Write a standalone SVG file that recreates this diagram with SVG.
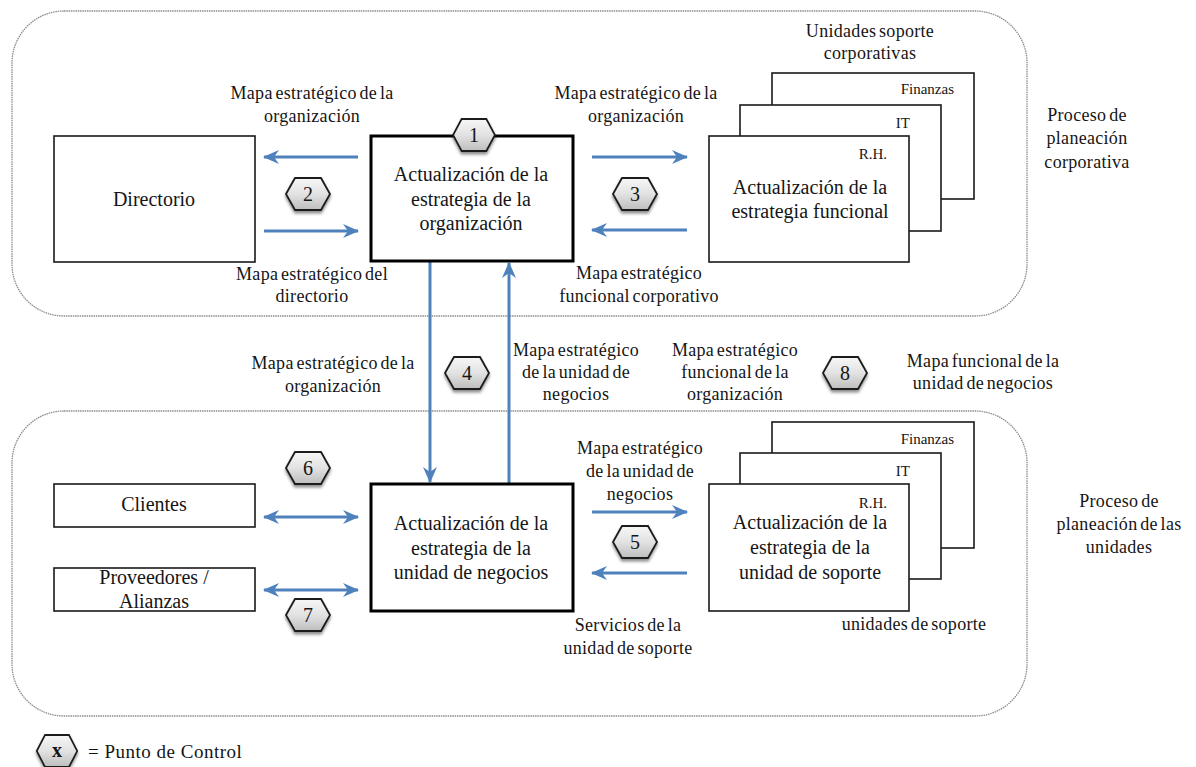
<svg xmlns="http://www.w3.org/2000/svg" width="1196" height="767" viewBox="0 0 1196 767" font-family="'Liberation Serif', 'DejaVu Serif', serif">
  <style>
    text { fill: #151515; }
    .main { font-size: 20px; text-anchor: middle; }
    .lbl { font-size: 18px; text-anchor: middle; letter-spacing: 0.3px; word-spacing: -2px; }
    .tag { font-size: 15px; text-anchor: end; }
    .num { font-size: 20px; text-anchor: middle; }
    .frame { fill: none; stroke: #8c8c8c; stroke-width: 1.3; stroke-dasharray: 1.5 0.8; }
    .box { fill: #fff; stroke: #1a1a1a; stroke-width: 1.6; }
    .core { fill: #fff; stroke: #000; stroke-width: 3; }
    .flow { fill: none; stroke: #4f81bd; stroke-width: 3; }
    .one { marker-end: url(#head); }
    .two { marker-start: url(#head); marker-end: url(#head); }
    .hex { fill: url(#hexfill); stroke: #1e1e1e; stroke-width: 1.8; filter: url(#shadow); }
  </style>
  <defs>
    <linearGradient id="hexfill" x1="0" y1="0" x2="0" y2="1">
      <stop offset="0" stop-color="#f7f7f7"/>
      <stop offset="0.5" stop-color="#e2e2e2"/>
      <stop offset="1" stop-color="#bdbdbd"/>
    </linearGradient>
    <filter id="shadow" x="-30%" y="-30%" width="160%" height="170%">
      <feDropShadow dx="0" dy="2.5" stdDeviation="1.6" flood-color="#000" flood-opacity="0.45"/>
    </filter>
    <marker id="head" viewBox="0 0 16 14" refX="15" refY="7" markerWidth="16" markerHeight="14" markerUnits="userSpaceOnUse" orient="auto-start-reverse">
      <path d="M0,0 L16,7 L0,14 L5,7 Z" fill="#4f81bd"/>
    </marker>
    <path id="hexshape" d="M-22,0 L-13,-16 L13,-16 L22,0 L13,16 L-13,16 Z"/>
  </defs>

  <!-- process frames -->
  <g id="frame-corporativo">
    <rect class="frame" x="12" y="11" width="1015" height="305" rx="52" ry="52"/>
    <text class="lbl" x="1087" y="121">Proceso de</text>
    <text class="lbl" x="1087" y="144">planeación</text>
    <text class="lbl" x="1087" y="168">corporativa</text>
  </g>
  <g id="frame-unidades">
    <rect class="frame" x="12" y="411" width="1015" height="305" rx="52" ry="52"/>
    <text class="lbl" x="1119" y="507">Proceso de</text>
    <text class="lbl" x="1119" y="530">planeación de las</text>
    <text class="lbl" x="1119" y="553">unidades</text>
  </g>

  <!-- connectors -->
  <g id="connectors">
    <line class="flow one" x1="358" y1="157" x2="264" y2="157"/>
    <line class="flow one" x1="264" y1="231" x2="358" y2="231"/>
    <line class="flow one" x1="592" y1="157" x2="687" y2="157"/>
    <line class="flow one" x1="687" y1="230" x2="592" y2="230"/>
    <line class="flow one" x1="430" y1="262" x2="430" y2="482"/>
    <line class="flow one" x1="509" y1="483" x2="509" y2="263"/>
    <line class="flow two" x1="264" y1="517" x2="358" y2="517"/>
    <line class="flow two" x1="264" y1="590" x2="358" y2="590"/>
    <line class="flow one" x1="592" y1="512" x2="687" y2="512"/>
    <line class="flow one" x1="687" y1="573" x2="592" y2="573"/>
  </g>

  <!-- corporate level -->
  <g id="directorio">
    <rect class="box" x="54" y="136" width="201" height="126"/>
    <text class="main" x="154" y="206">Directorio</text>
  </g>
  <g id="estrategia-organizacion">
    <rect class="core" x="371" y="136" width="202" height="125"/>
    <text class="main" x="471" y="181">Actualización de la</text>
    <text class="main" x="471" y="206">estrategia de la</text>
    <text class="main" x="471" y="230">organización</text>
  </g>
  <g id="unidades-corporativas">
    <text class="lbl" x="870" y="37">Unidades soporte</text>
    <text class="lbl" x="870" y="59">corporativas</text>
    <rect class="box" x="772" y="73" width="202" height="126"/>
    <text class="tag" x="954" y="94">Finanzas</text>
    <rect class="box" x="740" y="105" width="201" height="126"/>
    <text class="tag" x="910" y="128">IT</text>
    <rect class="box" x="709" y="136" width="200" height="126"/>
    <text class="tag" x="887" y="159">R.H.</text>
    <text class="main" x="810" y="194">Actualización de la</text>
    <text class="main" x="810" y="218">estrategia funcional</text>
  </g>

  <!-- business unit level -->
  <g id="clientes">
    <rect class="box" x="54" y="484" width="201" height="43"/>
    <text class="main" x="154" y="511">Clientes</text>
  </g>
  <g id="proveedores">
    <rect class="box" x="54" y="568" width="201" height="43"/>
    <text class="main" x="154" y="584">Proveedores /</text>
    <text class="main" x="154" y="608">Alianzas</text>
  </g>
  <g id="estrategia-unidad-negocios">
    <rect class="core" x="371" y="484" width="202" height="127"/>
    <text class="main" x="471" y="530">Actualización de la</text>
    <text class="main" x="471" y="555">estrategia de la</text>
    <text class="main" x="471" y="579">unidad de negocios</text>
  </g>
  <g id="unidades-soporte">
    <rect class="box" x="772" y="422" width="202" height="126"/>
    <text class="tag" x="954" y="444">Finanzas</text>
    <rect class="box" x="740" y="453" width="201" height="126"/>
    <text class="tag" x="910" y="476">IT</text>
    <rect class="box" x="709" y="484" width="200" height="127"/>
    <text class="tag" x="887" y="508">R.H.</text>
    <text class="main" x="810" y="529">Actualización de la</text>
    <text class="main" x="810" y="554">estrategia de la</text>
    <text class="main" x="810" y="579">unidad de soporte</text>
    <text class="lbl" x="914" y="630">unidades de soporte</text>
  </g>

  <!-- flow labels -->
  <g id="labels">
    <text class="lbl" x="312" y="99">Mapa estratégico de la</text>
    <text class="lbl" x="312" y="122">organización</text>
    <text class="lbl" x="312" y="280">Mapa estratégico del</text>
    <text class="lbl" x="312" y="302">directorio</text>
    <text class="lbl" x="636" y="99">Mapa estratégico de la</text>
    <text class="lbl" x="636" y="122">organización</text>
    <text class="lbl" x="639" y="279">Mapa estratégico</text>
    <text class="lbl" x="639" y="302">funcional corporativo</text>
    <text class="lbl" x="333" y="369">Mapa estratégico de la</text>
    <text class="lbl" x="333" y="392">organización</text>
    <text class="lbl" x="576" y="356">Mapa estratégico</text>
    <text class="lbl" x="576" y="378">de la unidad de</text>
    <text class="lbl" x="576" y="400">negocios</text>
    <text class="lbl" x="735" y="356">Mapa estratégico</text>
    <text class="lbl" x="735" y="378">funcional de la</text>
    <text class="lbl" x="735" y="400">organización</text>
    <text class="lbl" x="983" y="367">Mapa funcional de la</text>
    <text class="lbl" x="983" y="389">unidad de negocios</text>
    <text class="lbl" x="640" y="454">Mapa estratégico</text>
    <text class="lbl" x="640" y="477">de la unidad de</text>
    <text class="lbl" x="640" y="500">negocios</text>
    <text class="lbl" x="628" y="631">Servicios de la</text>
    <text class="lbl" x="628" y="654">unidad de soporte</text>
  </g>

  <!-- control points -->
  <g id="control-1"><use href="#hexshape" class="hex" transform="translate(474,135) scale(0.95,1)"/><text class="num" x="474" y="142">1</text></g>
  <g id="control-2"><use href="#hexshape" class="hex" transform="translate(308,194)"/><text class="num" x="308" y="201">2</text></g>
  <g id="control-3"><use href="#hexshape" class="hex" transform="translate(635,194)"/><text class="num" x="635" y="201">3</text></g>
  <g id="control-4"><use href="#hexshape" class="hex" transform="translate(467,373)"/><text class="num" x="467" y="380">4</text></g>
  <g id="control-5"><use href="#hexshape" class="hex" transform="translate(635,542)"/><text class="num" x="635" y="549">5</text></g>
  <g id="control-6"><use href="#hexshape" class="hex" transform="translate(308,468)"/><text class="num" x="308" y="475">6</text></g>
  <g id="control-7"><use href="#hexshape" class="hex" transform="translate(308,615)"/><text class="num" x="308" y="622">7</text></g>
  <g id="control-8"><use href="#hexshape" class="hex" transform="translate(845,373)"/><text class="num" x="845" y="380">8</text></g>

  <!-- legend -->
  <g id="legend">
    <use href="#hexshape" class="hex" transform="translate(57,751) scale(0.92,1)"/>
    <text class="num" x="57" y="757" font-weight="bold">x</text>
    <text x="88" y="758" font-size="19" letter-spacing="0.5">= Punto de Control</text>
  </g>
</svg>
